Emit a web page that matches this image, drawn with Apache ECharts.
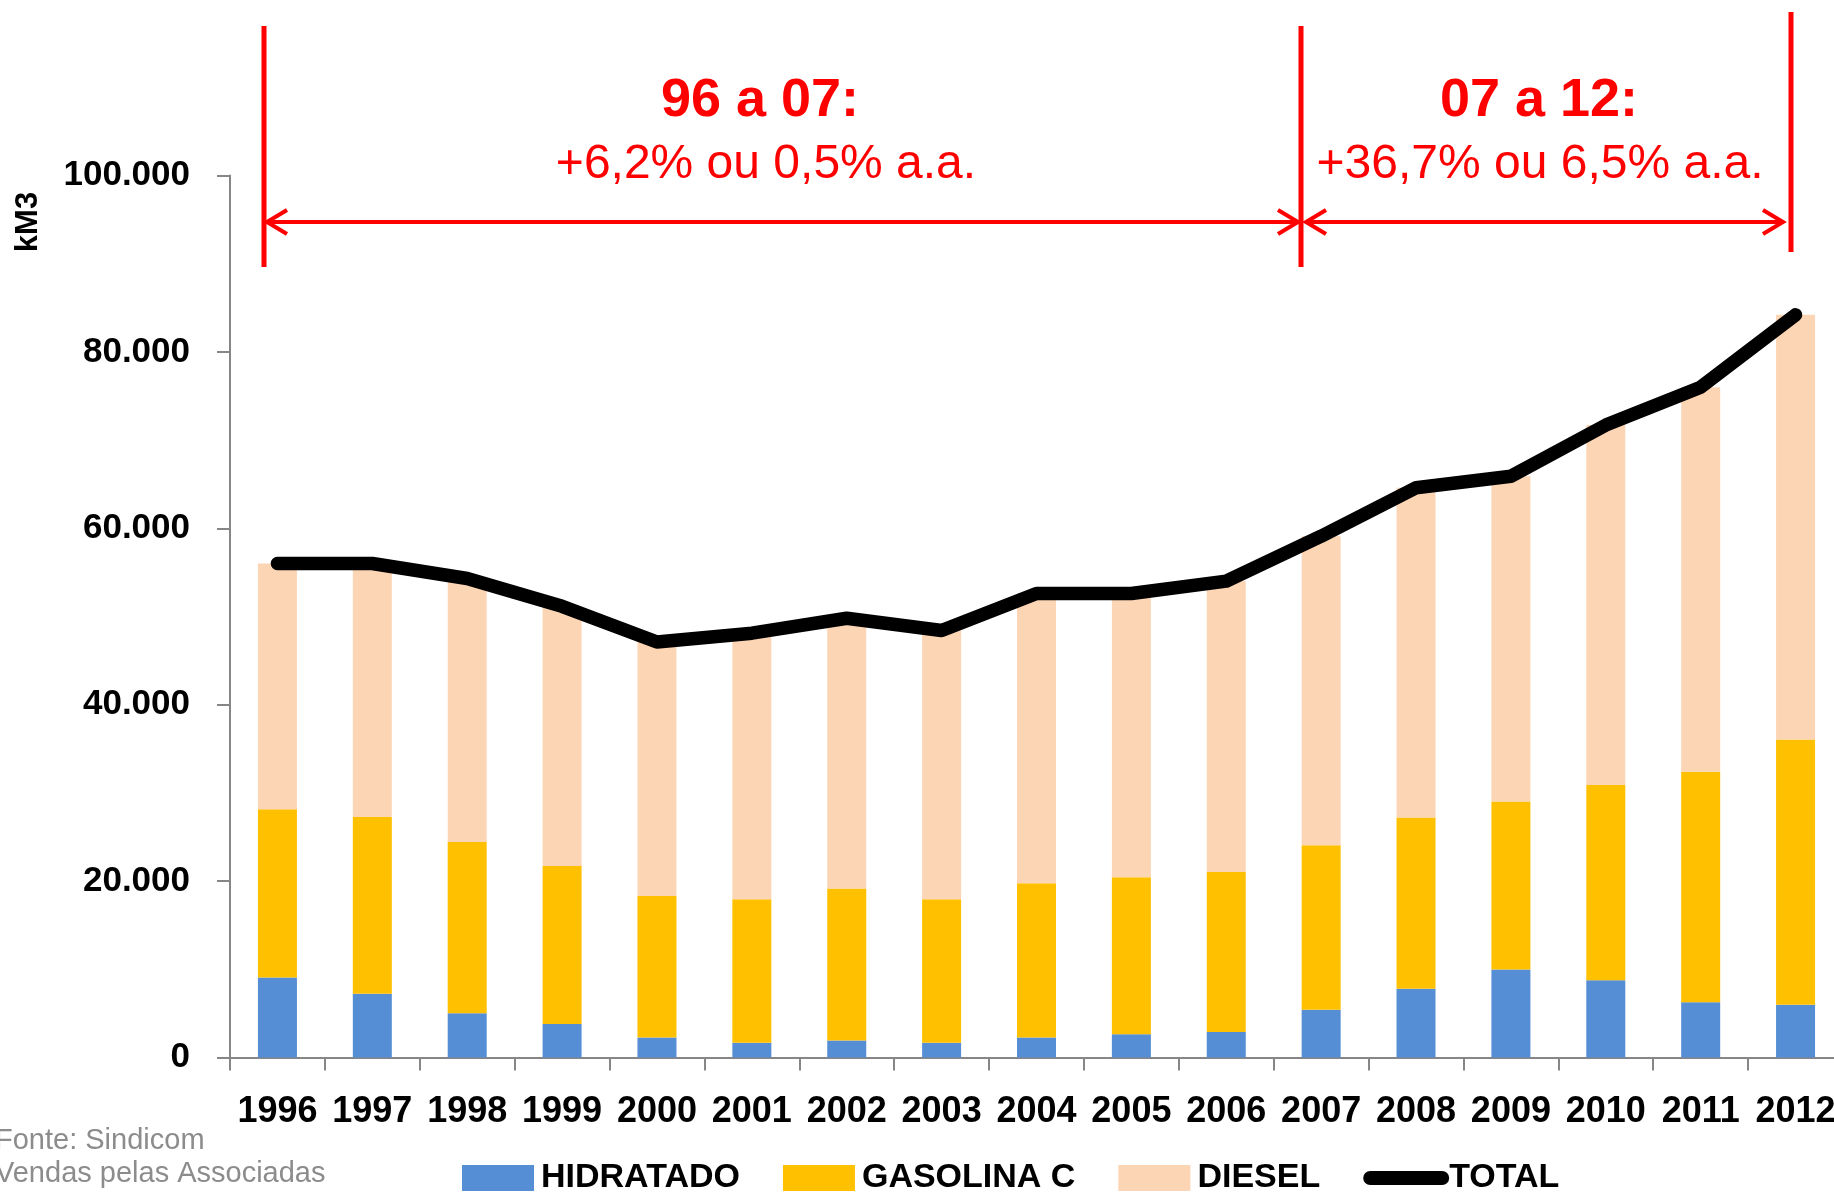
<!DOCTYPE html>
<html><head><meta charset="utf-8">
<script src="https://cdn.jsdelivr.net/npm/echarts@6/dist/echarts.min.js"></script>
<style>html,body{margin:0;padding:0;background:#fff;overflow:hidden}#c{width:1834px;height:1194px}</style>
</head><body><div id="c"></div>
<script>
const years = ['1996','1997','1998','1999','2000','2001','2002','2003','2004','2005','2006','2007','2008','2009','2010','2011','2012'];
const hidratado = [9050, 7230, 5000, 3780, 2270, 1670, 1910, 1670, 2270, 2630, 2880, 5400, 7780, 9960, 8740, 6260, 5960];
const gasolinaC = [19100, 20020, 19420, 17910, 16030, 16270, 17250, 16270, 17490, 17790, 18150, 18670, 19410, 19060, 22140, 26140, 30090];
const diesel = [27850, 28750, 29880, 29460, 28800, 30160, 30640, 30460, 32840, 32180, 32970, 35030, 37410, 36880, 40820, 43600, 48150];
const total = [56000, 56000, 54300, 51150, 47100, 48100, 49800, 48400, 52600, 52600, 54000, 59100, 64600, 65900, 71700, 76000, 84200];
const yTickLabels = ['0', '20.000', '40.000', '60.000', '80.000', '100.000'];
const seriesNames = ['HIDRATADO', 'GASOLINA C', 'DIESEL', 'TOTAL'];
const periodTitles = ['96 a 07:', '07 a 12:'];
const periodTexts = ['+6,2% ou 0,5% a.a.', '+36,7% ou 6,5% a.a.'];
const footnotes = ['Fonte: Sindicom', 'Vendas pelas Associadas'];

const ARIAL = '"Liberation Sans",Arial,sans-serif';
const RED = '#FF0000';
const AX = '#868686';

const chart = echarts.init(document.getElementById('c'), null, {renderer: 'canvas'});

function vline(x, y1, y2) {
  return {type: 'line', shape: {x1: x, y1: y1, x2: x, y2: y2}, style: {stroke: RED, lineWidth: 5}, z: 10};
}
function arrow(xa, xb, y) {
  return [
    {type: 'line', shape: {x1: xa + 2, y1: y, x2: xb - 2, y2: y}, style: {stroke: RED, lineWidth: 4}, z: 10},
    {type: 'polyline', shape: {points: [[xa + 21, y - 12], [xa + 1, y], [xa + 21, y + 12]]}, style: {stroke: RED, lineWidth: 4, fill: null}, z: 10},
    {type: 'polyline', shape: {points: [[xb - 21, y - 12], [xb - 1, y], [xb - 21, y + 12]]}, style: {stroke: RED, lineWidth: 4, fill: null}, z: 10}
  ];
}

const option = {
  backgroundColor: '#fff',
  animation: false,
  grid: {left: 230, top: 175.5, width: 1613, height: 881.9, containLabel: false, outerBoundsMode: 'none'},
  legend: {
    left: 462, top: 1161, padding: 0,
    itemWidth: 72, itemHeight: 26, itemGap: 43,
    textStyle: {fontFamily: ARIAL, fontWeight: 'bold', fontSize: 34, color: '#000', padding: [0, 0, 0, 2]},
    data: [
      {name: seriesNames[0], icon: 'rect'},
      {name: seriesNames[1], icon: 'rect'},
      {name: seriesNames[2], icon: 'rect'},
      {name: seriesNames[3], itemStyle: {opacity: 0}, lineStyle: {width: 14, cap: 'round', color: '#000'}}
    ]
  },
  xAxis: {
    type: 'category', data: years, boundaryGap: true,
    axisLine: {lineStyle: {color: AX, width: 2}},
    axisTick: {show: true, length: 13, lineStyle: {color: AX, width: 2}},
    axisLabel: {fontFamily: ARIAL, fontWeight: 'bold', fontSize: 36, color: '#000', margin: 37, interval: 0, hideOverlap: false}
  },
  yAxis: {
    type: 'value', min: 0, max: 100000, interval: 20000,
    splitLine: {show: false},
    axisLine: {show: true, lineStyle: {color: AX, width: 2}},
    axisTick: {show: true, length: 13, lineStyle: {color: AX, width: 2}},
    axisLabel: {fontFamily: ARIAL, fontWeight: 'bold', fontSize: 35, color: '#000', margin: 40,
      formatter: v => yTickLabels[Math.round(v / 20000)]}
  },
  series: [
    {name: seriesNames[0], type: 'bar', stack: 'v', data: hidratado, barWidth: 39, itemStyle: {color: '#558ED5'}},
    {name: seriesNames[1], type: 'bar', stack: 'v', data: gasolinaC, barWidth: 39, itemStyle: {color: '#FFC000'}},
    {name: seriesNames[2], type: 'bar', stack: 'v', data: diesel, barWidth: 39, itemStyle: {color: '#FCD5B5'}},
    {name: seriesNames[3], type: 'line', data: total, symbol: 'none', z: 5,
      itemStyle: {color: '#000'},
      lineStyle: {color: '#000', width: 13.5, cap: 'round', join: 'round'}}
  ],
  graphic: [
    vline(264, 26, 267), vline(1301, 26, 267), vline(1791, 12, 252),
    ...arrow(266, 1299, 222), ...arrow(1305, 1784, 222),
    {type: 'text', x: 760, y: 101, style: {text: periodTitles[0], fill: RED, font: 'bold 54px ' + ARIAL, align: 'center', verticalAlign: 'middle'}, z: 10},
    {type: 'text', x: 766, y: 165, style: {text: periodTexts[0], fill: RED, font: '48px ' + ARIAL, align: 'center', verticalAlign: 'middle'}, z: 10},
    {type: 'text', x: 1539, y: 101, style: {text: periodTitles[1], fill: RED, font: 'bold 54px ' + ARIAL, align: 'center', verticalAlign: 'middle'}, z: 10},
    {type: 'text', x: 1540, y: 165, style: {text: periodTexts[1], fill: RED, font: '48px ' + ARIAL, align: 'center', verticalAlign: 'middle'}, z: 10},
    {type: 'text', x: 28, y: 222, rotation: Math.PI / 2, style: {text: 'kM3', fill: '#000', font: 'bold 31px ' + ARIAL, align: 'center', verticalAlign: 'middle'}},
    {type: 'text', x: -5, y: 1141, style: {text: footnotes[0], fill: '#8C8C8C', font: '29px ' + ARIAL, align: 'left', verticalAlign: 'middle'}},
    {type: 'text', x: -5, y: 1174, style: {text: footnotes[1], fill: '#8C8C8C', font: '29px ' + ARIAL, align: 'left', verticalAlign: 'middle'}}
  ]
};
chart.setOption(option);
</script>
</body></html>
